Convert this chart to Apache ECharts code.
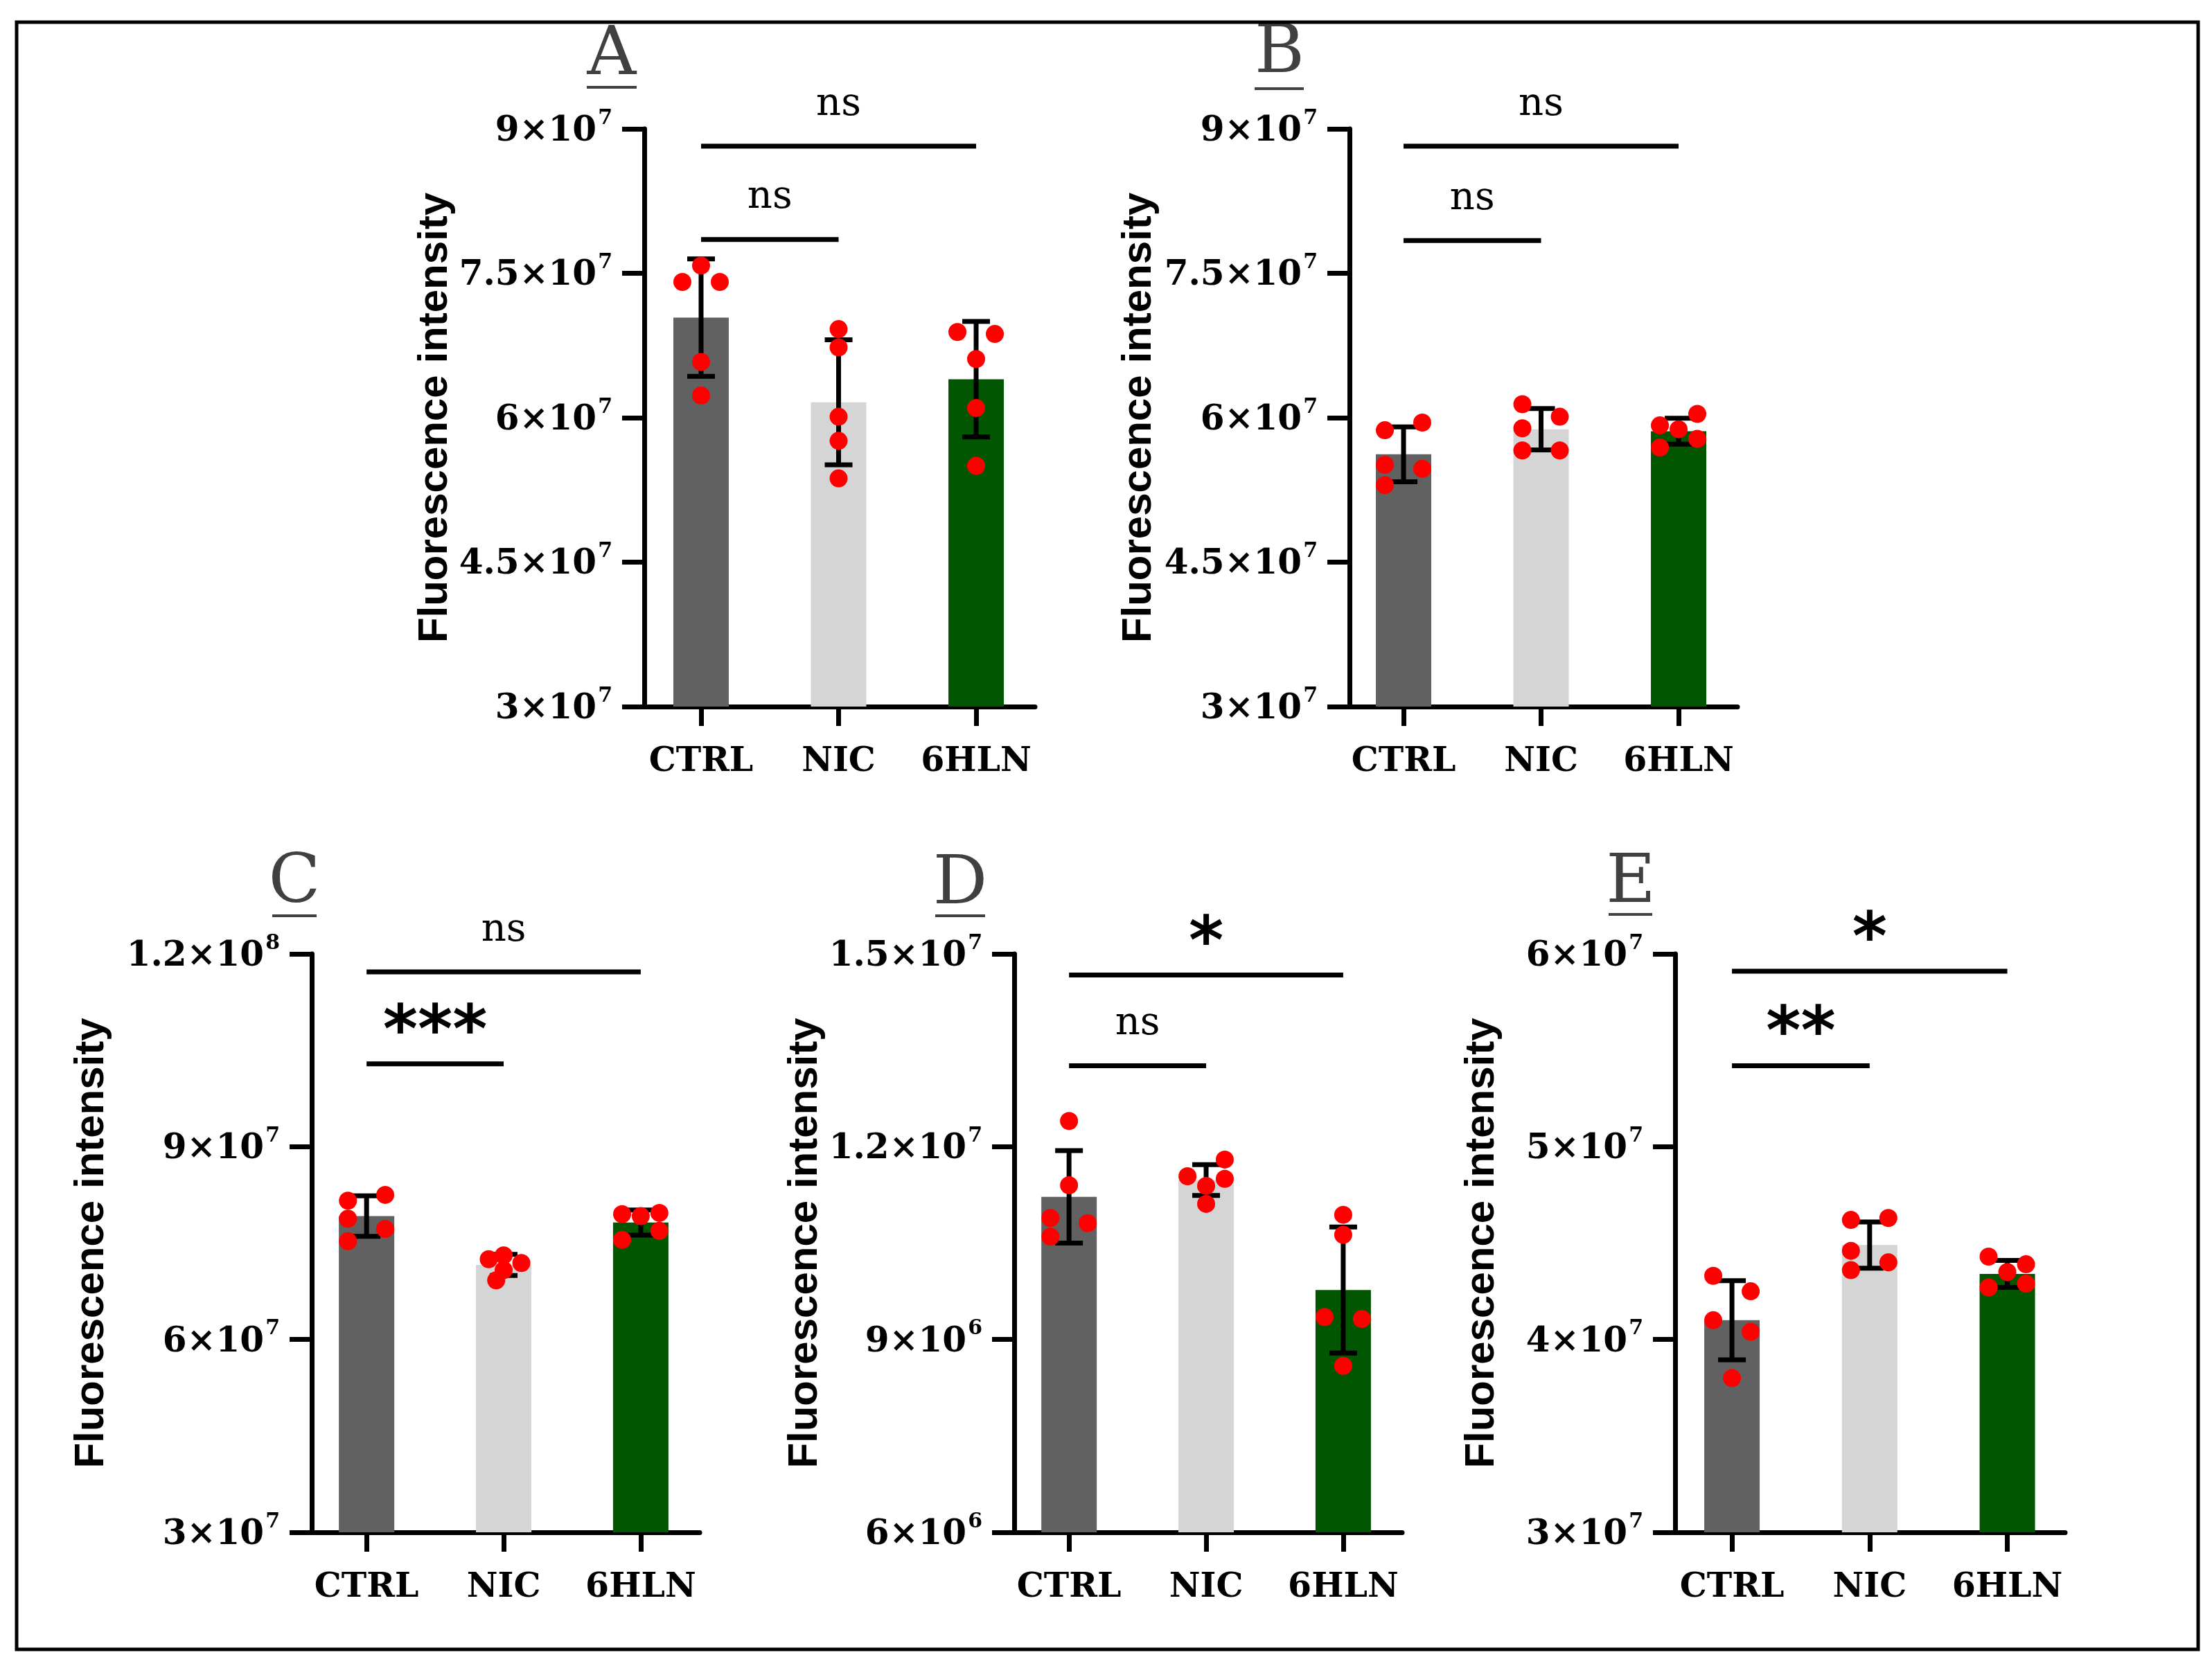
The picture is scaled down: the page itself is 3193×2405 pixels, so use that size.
<!DOCTYPE html>
<html><head><meta charset="utf-8">
<script src="https://cdn.jsdelivr.net/npm/echarts@6/dist/echarts.min.js"></script>
<style>html,body{margin:0;padding:0;background:#fff}#c{width:3193px;height:2405px}</style>
</head><body><div id="c"></div>
<script>
// ---------------- DATA ----------------
const categories = ['CTRL', 'NIC', '6HLN'];
const yAxisTitle = 'Fluorescence intensity';

// Panel A
const meansA = [7.04e7, 6.16e7, 6.40e7];
const sdA = [0.61e7, 0.65e7, 0.60e7];
const pointsA = [[7.58e7, 7.41e7, 7.41e7, 6.58e7, 6.23e7], [6.92e7, 6.73e7, 6.01e7, 5.76e7, 5.37e7], [6.89e7, 6.87e7, 6.61e7, 6.10e7, 5.50e7]];
const jitterA = [[0, -1, 1, 0, 0], [0, 0, 0, 0, 0], [-1, 1, 0, 0, 0]];
const bracketsA = [[0, 2, 8.82e7, 'ns'], [0, 1, 7.85e7, 'ns']];
const yRangeA = [3e7, 9e7, 1.5e7];

// Panel B
const meansB = [5.62e7, 5.88e7, 5.86e7];
const sdB = [0.285e7, 0.215e7, 0.135e7];
const pointsB = [[5.87e7, 5.95e7, 5.51e7, 5.47e7, 5.30e7], [6.14e7, 6.01e7, 5.89e7, 5.66e7, 5.66e7], [5.92e7, 6.04e7, 5.88e7, 5.69e7, 5.78e7]];
const jitterB = [[-1, 1, -1, 1, -1], [-1, 1, -1, -1, 1], [-1, 1, 0, -1, 1]];
const bracketsB = [[0, 2, 8.82e7, 'ns'], [0, 1, 7.84e7, 'ns']];
const yRangeB = [3e7, 9e7, 1.5e7];

// Panel C
const meansC = [7.92e7, 7.16e7, 7.82e7];
const sdC = [0.315e7, 0.165e7, 0.195e7];
const pointsC = [[8.16e7, 8.25e7, 7.88e7, 7.72e7, 7.53e7], [7.25e7, 7.31e7, 7.19e7, 7.08e7, 6.92e7], [7.95e7, 7.92e7, 7.97e7, 7.55e7, 7.69e7]];
const jitterC = [[-1, 1, -1, 1, -1], [-0.8, 0, 0.95, 0, -0.4], [-1, 0, 1, -1, 1]];
const bracketsC = [[0, 2, 11.72e7, 'ns'], [0, 1, 10.29e7, '***']];
const yRangeC = [3e7, 12e7, 3e7];

// Panel D
const meansD = [11.22e6, 11.48e6, 9.77e6];
const sdD = [0.72e6, 0.24e6, 0.98e6];
const pointsD = [[12.40e6, 11.40e6, 10.89e6, 10.81e6, 10.60e6], [11.80e6, 11.54e6, 11.50e6, 11.39e6, 11.11e6], [10.94e6, 10.63e6, 9.35e6, 9.32e6, 8.59e6]];
const jitterD = [[0, 0, -1, 1, -1], [1, -1, 1, 0, 0], [0, 0, -1, 1, 0]];
const bracketsD = [[0, 2, 14.67e6, '*'], [0, 1, 13.26e6, 'ns']];
const yRangeD = [6e6, 15e6, 3e6];

// Panel E
const meansE = [4.10e7, 4.49e7, 4.34e7];
const sdE = [0.205e7, 0.12e7, 0.07e7];
const pointsE = [[4.33e7, 4.25e7, 4.10e7, 4.04e7, 3.80e7], [4.62e7, 4.63e7, 4.46e7, 4.40e7, 4.36e7], [4.43e7, 4.39e7, 4.35e7, 4.27e7, 4.29e7]];
const jitterE = [[-1, 1, -1, 1, 0], [-1, 1, -1, 1, -1], [-1, 1, 0, -1, 1]];
const bracketsE = [[0, 2, 5.91e7, '*'], [0, 1, 5.42e7, '**']];
const yRangeE = [3e7, 6e7, 1e7];

// ---------------- LAYOUT / STYLE ----------------
const barColors = ['#616161', '#d5d5d5', '#025602'];
const JIT = 0.136;
const LW = 7;
const panels = [
  { letter: 'A', means: meansA, sd: sdA, pts: pointsA, jit: jitterA, br: bracketsA, yr: yRangeA,
    grid: { left: 930, top: 186, width: 564, height: 834 }, xr: [-0.413, 2.428], nameGap: 270,
    L: { x: 883, y: 82, ux1: 847, ux2: 919, uy: 126 } },
  { letter: 'B', means: meansB, sd: sdB, pts: pointsB, jit: jitterB, br: bracketsB, yr: yRangeB,
    grid: { left: 1948, top: 186, width: 560, height: 834 }, xr: [-0.393, 2.428], nameGap: 274,
    L: { x: 1847, y: 79, ux1: 1811, ux2: 1882, uy: 128 } },
  { letter: 'C', means: meansC, sd: sdC, pts: pointsC, jit: jitterC, br: bracketsC, yr: yRangeC,
    grid: { left: 450, top: 1377, width: 560, height: 835 }, xr: [-0.40, 2.43], nameGap: 288,
    L: { x: 425, y: 1277, ux1: 393, ux2: 457, uy: 1322 } },
  { letter: 'D', means: meansD, sd: sdD, pts: pointsD, jit: jitterD, br: bracketsD, yr: yRangeD,
    grid: { left: 1464, top: 1377, width: 560, height: 835 }, xr: [-0.40, 2.43], nameGap: 267,
    L: { x: 1386, y: 1279, ux1: 1350, ux2: 1422, uy: 1322 } },
  { letter: 'E', means: meansE, sd: sdE, pts: pointsE, jit: jitterE, br: bracketsE, yr: yRangeE,
    grid: { left: 2418, top: 1377, width: 563, height: 835 }, xr: [-0.413, 2.42], nameGap: 249,
    L: { x: 2354, y: 1277, ux1: 2322, ux2: 2385, uy: 1320 } }
];

function tickLabel(v) {
  const e = Math.floor(Math.log10(v) + 1e-9);
  const m = Math.round(v / Math.pow(10, e) * 10) / 10;
  return '{m|' + m + '×10}{s|' + e + '}';
}

const grid = [], xAxis = [], yAxis = [], series = [], graphic = [];

graphic.push({ type: 'rect', shape: { x: 24, y: 32, width: 3149, height: 2349 },
  style: { fill: 'none', stroke: '#000', lineWidth: 5 }, z: 10 });

panels.forEach((p, i) => {
  grid.push(Object.assign({ containLabel: false }, p.grid));
  xAxis.push({
    type: 'value', gridIndex: i, min: p.xr[0], max: p.xr[1],
    axisLine: { show: true, onZero: false, lineStyle: { color: '#000', width: LW } },
    axisTick: { show: true, customValues: [0, 1, 2], length: 28, lineStyle: { color: '#000', width: LW } },
    axisLabel: { show: true, customValues: [0, 1, 2], formatter: v => categories[Math.round(v)],
      margin: 80, verticalAlign: 'middle', color: '#000', fontFamily: 'DejaVu Serif', fontWeight: 'bold', fontSize: 49 },
    splitLine: { show: false }
  });
  yAxis.push({
    type: 'value', gridIndex: i, min: p.yr[0], max: p.yr[1], interval: p.yr[2], startValue: p.yr[0],
    name: yAxisTitle, nameLocation: 'middle', nameRotate: 90, nameGap: p.nameGap,
    nameTextStyle: { fontFamily: 'Liberation Sans', fontWeight: 'bold', fontSize: 60, color: '#000' },
    axisLine: { show: true, onZero: false, lineStyle: { color: '#000', width: LW } },
    axisTick: { show: true, length: 32, lineStyle: { color: '#000', width: LW } },
    axisLabel: { show: true, margin: 46, formatter: tickLabel,
      rich: {
        m: { fontFamily: 'DejaVu Serif', fontWeight: 'bold', fontSize: 50, color: '#000', padding: [8, 0, 0, 0] },
        s: { fontFamily: 'DejaVu Serif', fontWeight: 'bold', fontSize: 30, color: '#000', padding: [0, 0, 30, 2] }
      } },
    splitLine: { show: false }
  });

  // bars
  series.push({
    type: 'bar', xAxisIndex: i, yAxisIndex: i, barWidth: 80, z: 2, silent: true,
    data: p.means.map((m, j) => ({ value: [j, m], itemStyle: { color: barColors[j] } }))
  });
  // error bars (mean ± SD)
  series.push({
    type: 'custom', xAxisIndex: i, yAxisIndex: i, z: 4, silent: true,
    encode: { x: 0, y: [1, 2] },
    data: p.means.map((m, j) => [j, m - p.sd[j], m + p.sd[j]]),
    renderItem: (params, api) => {
      const x = api.value(0);
      const a = api.coord([x, api.value(1)]), b = api.coord([x, api.value(2)]);
      const hw = 20, st = { stroke: '#000', lineWidth: LW };
      return { type: 'group', children: [
        { type: 'line', shape: { x1: a[0], y1: a[1], x2: b[0], y2: b[1] }, style: st },
        { type: 'line', shape: { x1: a[0] - hw, y1: a[1], x2: a[0] + hw, y2: a[1] }, style: st },
        { type: 'line', shape: { x1: b[0] - hw, y1: b[1], x2: b[0] + hw, y2: b[1] }, style: st }
      ] };
    }
  });
  // individual points (drawn above error bars)
  const sdata = [];
  p.pts.forEach((arr, j) => arr.forEach((v, k) => sdata.push([j + p.jit[j][k] * JIT, v])));
  series.push({
    type: 'scatter', xAxisIndex: i, yAxisIndex: i, symbolSize: 26, z: 5, silent: true,
    itemStyle: { color: '#ff0000', opacity: 1 }, data: sdata
  });
  // significance brackets
  const br = p.br;
  series.push({
    type: 'custom', xAxisIndex: i, yAxisIndex: i, z: 4, silent: true, clip: false,
    encode: { x: [0, 1], y: 2 },
    data: br.map(b => [b[0], b[1], b[2]]),
    renderItem: (params, api) => {
      const lab = br[params.dataIndex][3];
      const a = api.coord([api.value(0), api.value(2)]), b = api.coord([api.value(1), api.value(2)]);
      const isStar = lab.indexOf('*') >= 0;
      const font = isStar ? 'bold 96px "DejaVu Sans"' : 'normal 56px "DejaVu Serif"';
      const dy = isStar ? 42 : 60;
      return { type: 'group', children: [
        { type: 'line', shape: { x1: a[0], y1: a[1], x2: b[0], y2: b[1] }, style: { stroke: '#000', lineWidth: LW } },
        { type: 'text', x: (a[0] + b[0]) / 2, y: a[1] - dy,
          style: { text: lab, font: font, fill: '#000', textAlign: 'center', textVerticalAlign: 'middle', align: 'center', verticalAlign: 'middle' } }
      ] };
    }
  });

  // panel letter
  graphic.push({ type: 'text', x: p.L.x, y: p.L.y,
    style: { text: p.letter, font: 'normal 98px "DejaVu Serif"', fill: '#404040', textAlign: 'center', textVerticalAlign: 'middle', align: 'center', verticalAlign: 'middle' } });
  graphic.push({ type: 'rect', shape: { x: p.L.ux1, y: p.L.uy - 2, width: p.L.ux2 - p.L.ux1, height: 4 },
    style: { fill: '#404040' } });
});

const chart = echarts.init(document.getElementById('c'), null, { renderer: 'canvas' });
chart.setOption({
  backgroundColor: '#ffffff',
  animation: false,
  grid, xAxis, yAxis, series, graphic
});
</script>
</body></html>
